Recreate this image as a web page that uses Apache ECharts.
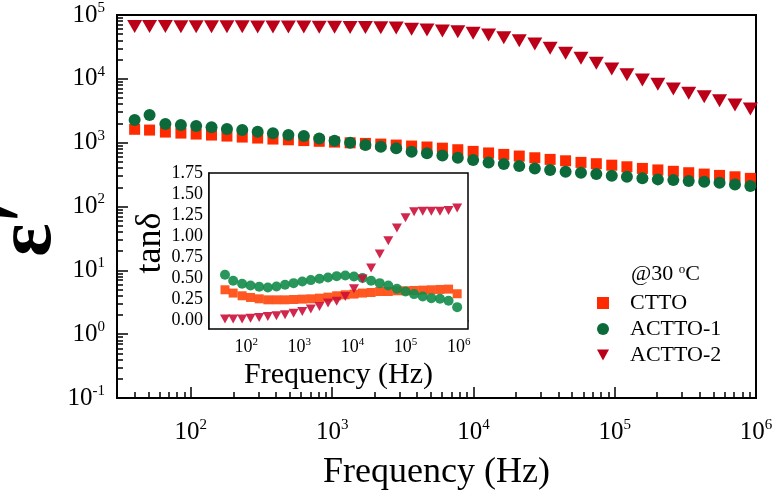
<!DOCTYPE html>
<html><head><meta charset="utf-8">
<script src="https://cdn.jsdelivr.net/npm/echarts@6/dist/echarts.min.js"></script>
<style>html,body{margin:0;padding:0;background:#fff}#c{width:774px;height:491px}</style>
</head><body><div id="c"></div>
<script>
// ---- main plot: dielectric constant vs frequency ----
const freqMain = [40, 51, 66, 85, 109, 140, 180, 231, 297, 381, 490, 630, 810, 1040, 1340, 1720, 2210, 2840, 3650, 4690, 6030, 7750, 9950, 12800, 16400, 21100, 27200, 34900, 44900, 57700, 74100, 95300, 122000, 157000, 202000, 260000, 334000, 430000, 552000, 710000, 912000];
const epsCTTO = [1620, 1575, 1465, 1413, 1364, 1316, 1269, 1224, 1181, 1139, 1110, 1078, 1051, 1021, 995, 974, 950, 917, 885, 855, 820, 775, 730, 690, 655, 617, 580, 547, 520, 491, 468, 444, 419, 395, 374, 356, 338, 322, 307, 292, 276];
const epsACTTO1 = [2260, 2710, 1958, 1888, 1820, 1738, 1634, 1575, 1482, 1399, 1316, 1269, 1167, 1071, 995, 917, 862, 814, 720, 680, 632, 580, 533, 491, 462, 430, 395, 372, 350, 338, 322, 303, 292, 276, 266, 259, 250, 244, 235, 222, 209];
const epsACTTO2 = [66000, 66000, 65800, 65600, 65500, 65400, 65300, 65200, 65100, 65000, 64900, 64700, 64500, 64200, 63900, 63500, 63000, 62500, 59700, 58200, 56100, 54700, 51600, 48600, 44100, 39600, 35100, 30100, 25100, 21000, 17500, 14300, 11600, 9580, 8200, 6920, 5930, 5240, 4540, 3880, 3370];

// ---- inset: loss tangent vs frequency ----
const freqInset = [40, 57, 84, 121, 176, 256, 372, 540, 783, 1140, 1650, 2400, 3480, 5060, 7350, 10700, 15500, 22500, 32700, 47400, 68900, 100000, 145000, 211000, 306000, 445000, 646000, 938000];
const tanCTTO = [0.365, 0.326, 0.294, 0.274, 0.258, 0.246, 0.246, 0.246, 0.250, 0.254, 0.258, 0.266, 0.278, 0.294, 0.306, 0.314, 0.326, 0.333, 0.345, 0.345, 0.353, 0.353, 0.357, 0.361, 0.365, 0.369, 0.373, 0.318];
const tanACTTO1 = [0.543, 0.472, 0.436, 0.416, 0.401, 0.392, 0.404, 0.424, 0.444, 0.464, 0.480, 0.496, 0.511, 0.527, 0.535, 0.523, 0.504, 0.472, 0.444, 0.416, 0.377, 0.345, 0.314, 0.285, 0.266, 0.258, 0.234, 0.159];
const tanACTTO2 = [0.02, 0.02, 0.02, 0.028, 0.036, 0.048, 0.056, 0.068, 0.088, 0.107, 0.136, 0.166, 0.207, 0.23, 0.285, 0.377, 0.492, 0.623, 0.79, 0.948, 1.099, 1.218, 1.289, 1.296, 1.296, 1.296, 1.304, 1.336];

const seriesNames = ['CTTO', 'ACTTO-1', 'ACTTO-2'];
const mainXTicks = [100, 1000, 10000, 100000, 1000000];
const mainYTicks = [0.1, 1, 10, 100, 1000, 10000, 100000];
const insetXTicks = [100, 1000, 10000, 100000, 1000000];
const insetYTicks = [0, 0.25, 0.5, 0.75, 1.0, 1.25, 1.5, 1.75];
const insetYMinor = [0.125, 0.375, 0.625, 0.875, 1.125, 1.375, 1.625];

const FONT = 'Liberation Serif';
function logMinor(lo, hi) {
  const out = [];
  for (let e = -2; e <= 7; e++) {
    for (let m = 2; m <= 9; m++) {
      const v = m * Math.pow(10, e);
      if (v > lo && v < hi) out.push(+v.toPrecision(3));
    }
  }
  return out;
}
function expLabel(v) { return '10{s|' + Math.round(Math.log10(v)) + '}'; }
const zip = (xs, ys) => xs.map((x, i) => [x, ys[i]]);
const TRI = 'path://M0,0 L10,0 L5,9 Z';

const majorAxisCommon = (fs, supFs, pad, margin, lw) => ({
  axisLine: { show: true, lineStyle: { color: '#000', width: lw } },
  splitLine: { show: false },
  axisLabel: {
    formatter: expLabel, fontSize: fs, fontFamily: FONT, color: '#000', margin: margin,
    rich: { s: { fontSize: supFs, fontFamily: FONT, color: '#000', padding: [0, 0, pad, 0] } }
  }
});

const chart = echarts.init(document.getElementById('c'), null, { renderer: 'canvas' });
const option = {
  animation: false,
  backgroundColor: '#fff',
  grid: [
    { left: 117, top: 15, right: 18, bottom: 93, outerBoundsMode: 'none', containLabel: false,
      show: true, borderColor: '#000', borderWidth: 2, backgroundColor: 'transparent' },
    { left: 209, top: 173, right: 306, bottom: 162, outerBoundsMode: 'none', containLabel: false,
      show: true, borderColor: '#000', borderWidth: 1.5, backgroundColor: '#fff', z: 3 }
  ],
  title: {
    text: '@30 {o|o}C', left: 626, top: 258,
    textStyle: { fontSize: 22, fontFamily: FONT, fontWeight: 'normal', color: '#000',
      rich: { o: { fontSize: 13, fontFamily: FONT, color: '#000', padding: [0, 0, 10, 0] } } }
  },
  legend: {
    data: seriesNames, orient: 'vertical', left: 592, top: 287,
    itemWidth: 12, itemHeight: 12, itemGap: 4,
    textStyle: { fontSize: 22, fontFamily: FONT, color: '#000', padding: [0, 0, 0, 16] }
  },
  graphic: [
    { type: 'text', x: 30, y: 229, rotation: Math.PI / 2,
      style: { text: '\u03b5\u2032', font: 'bold 78px "Liberation Serif"', fill: '#000', align: 'center', verticalAlign: 'middle' } },
    { type: 'text', x: 151, y: 243, rotation: Math.PI / 2, z: 10,
      style: { text: 'tan\u03b4', font: '36px "Liberation Serif"', fill: '#000', align: 'center', verticalAlign: 'middle' } }
  ],
  xAxis: [
    Object.assign({ gridIndex: 0, type: 'log', min: 30, max: 1e6, position: 'bottom',
      axisTick: { inside: true, length: 11, customValues: mainXTicks, lineStyle: { color: '#000', width: 1.5 } },
      name: 'Frequency (Hz)', nameLocation: 'middle', nameGap: 57,
      nameTextStyle: { fontSize: 36, fontFamily: FONT, color: '#000' } }, (() => {
        const c = majorAxisCommon(25, 15, 14, 20, 2); c.axisLabel.customValues = mainXTicks; return c; })()),
    { gridIndex: 0, type: 'log', min: 30, max: 1e6, position: 'bottom',
      axisLine: { show: false }, splitLine: { show: false }, axisLabel: { show: false },
      axisTick: { inside: true, length: 6, customValues: logMinor(30, 1e6), lineStyle: { color: '#000', width: 1.5 } } },
    Object.assign({ gridIndex: 1, type: 'log', min: 20, max: 1.5e6, position: 'bottom',
      axisTick: { inside: true, length: 7, customValues: insetXTicks, lineStyle: { color: '#000', width: 1 } },
      name: 'Frequency (Hz)', nameLocation: 'middle', nameGap: 31,
      nameTextStyle: { fontSize: 30, fontFamily: FONT, color: '#000' } }, (() => {
        const c = majorAxisCommon(18, 11, 10, 8, 1.5); c.axisLabel.customValues = insetXTicks; return c; })()),
    { gridIndex: 1, type: 'log', min: 20, max: 1.5e6, position: 'bottom',
      axisLine: { show: false }, splitLine: { show: false }, axisLabel: { show: false },
      axisTick: { inside: true, length: 4, customValues: logMinor(20, 1.5e6), lineStyle: { color: '#000', width: 1 } } }
  ],
  yAxis: [
    Object.assign({ gridIndex: 0, type: 'log', min: 0.1, max: 1e5, position: 'left',
      axisTick: { inside: true, length: 11, customValues: mainYTicks, lineStyle: { color: '#000', width: 1.5 } } }, (() => {
        const c = majorAxisCommon(25, 15, 14, 12, 2); c.axisLabel.customValues = mainYTicks; return c; })()),
    { gridIndex: 0, type: 'log', min: 0.1, max: 1e5, position: 'left',
      axisLine: { show: false }, splitLine: { show: false }, axisLabel: { show: false },
      axisTick: { inside: true, length: 6, customValues: logMinor(0.1, 1e5), lineStyle: { color: '#000', width: 1.5 } } },
    { gridIndex: 1, type: 'value', min: -0.1, max: 1.75, position: 'left',
      axisLine: { show: true, lineStyle: { color: '#000', width: 1.5 } }, splitLine: { show: false },
      axisTick: { inside: true, length: 7, customValues: insetYTicks, lineStyle: { color: '#000', width: 1 } },
      axisLabel: { customValues: insetYTicks, formatter: v => v.toFixed(2), fontSize: 18, fontFamily: FONT, color: '#000', margin: 6 } },
    { gridIndex: 1, type: 'value', min: -0.1, max: 1.75, position: 'left',
      axisLine: { show: false }, splitLine: { show: false }, axisLabel: { show: false },
      axisTick: { inside: true, length: 4, customValues: insetYMinor, lineStyle: { color: '#000', width: 1 } } },
    { gridIndex: 1, type: 'value', min: -0.1, max: 1.75, position: 'right',
      axisLine: { show: false }, splitLine: { show: false }, axisLabel: { show: false },
      axisTick: { inside: true, length: 7, customValues: insetYTicks, lineStyle: { color: '#000', width: 1 } } },
    { gridIndex: 1, type: 'value', min: -0.1, max: 1.75, position: 'right',
      axisLine: { show: false }, splitLine: { show: false }, axisLabel: { show: false },
      axisTick: { inside: true, length: 4, customValues: insetYMinor, lineStyle: { color: '#000', width: 1 } } }
  ],
  series: [
    { name: 'ACTTO-2', type: 'scatter', xAxisIndex: 0, yAxisIndex: 0, symbol: TRI, symbolSize: [15, 13],
      itemStyle: { color: '#BC0018', opacity: 1 }, data: zip(freqMain, epsACTTO2), z: 2 },
    { name: 'CTTO', type: 'scatter', xAxisIndex: 0, yAxisIndex: 0, symbol: 'rect', symbolSize: 11,
      itemStyle: { color: '#FF2A00', opacity: 1 }, data: zip(freqMain, epsCTTO), z: 2 },
    { name: 'ACTTO-1', type: 'scatter', xAxisIndex: 0, yAxisIndex: 0, symbol: 'circle', symbolSize: 12,
      itemStyle: { color: '#0C6A3A', opacity: 1 }, data: zip(freqMain, epsACTTO1), z: 2 },
    { name: 'CTTO tan', type: 'scatter', xAxisIndex: 2, yAxisIndex: 2, symbol: 'rect', symbolSize: 9,
      itemStyle: { color: '#FF4A10', opacity: 0.92 }, data: zip(freqInset, tanCTTO), z: 5 },
    { name: 'ACTTO-1 tan', type: 'scatter', xAxisIndex: 2, yAxisIndex: 2, symbol: 'circle', symbolSize: 10,
      itemStyle: { color: '#128C4A', opacity: 0.9 }, data: zip(freqInset, tanACTTO1), z: 5 },
    { name: 'ACTTO-2 tan', type: 'scatter', xAxisIndex: 2, yAxisIndex: 2, symbol: TRI, symbolSize: [10, 9],
      itemStyle: { color: '#CC1038', opacity: 0.9 }, data: zip(freqInset, tanACTTO2), z: 5 }
  ]
};
chart.setOption(option);
</script>
</body></html>
